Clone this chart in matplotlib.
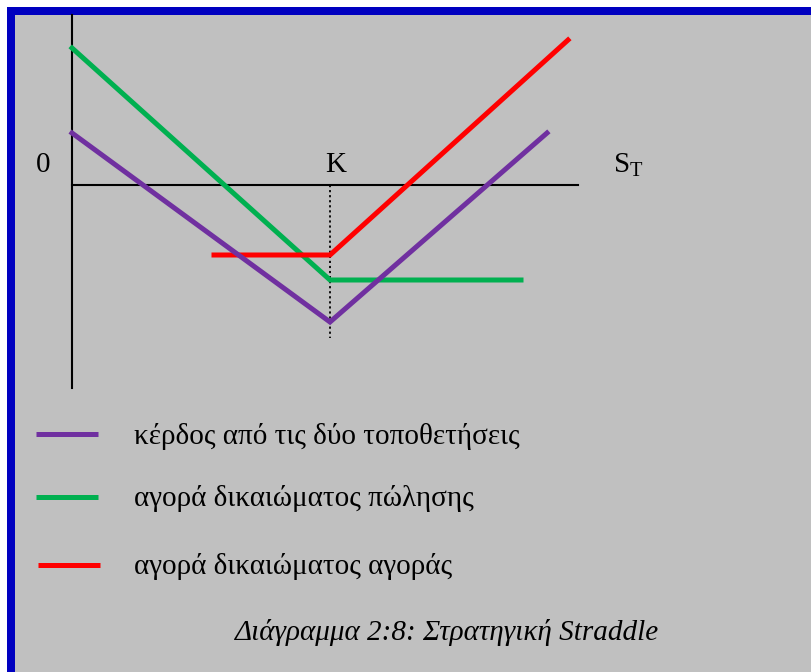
import matplotlib.pyplot as plt
from matplotlib.patches import Rectangle

plt.rcParams['font.family'] = ['Liberation Serif', 'DejaVu Serif']

# payoff diagram, arbitrary units (S_T on x, profit on y)
K = 258
put_S = [0, K, 449]
put_profit = [137, -95, -95]
call_S = [142, K, 496]
call_profit = [-70, -70, 145]
straddle_S = [0, K, 475]
straddle_profit = [52, -137, 52]

labels = ['κέρδος από τις δύο τοποθετήσεις',
          'αγορά δικαιώματος πώλησης',
          'αγορά δικαιώματος αγοράς']
colors = ['#7030A0', '#00B050', '#FF0000']
caption = 'Διάγραμμα 2:8: Στρατηγική Straddle'

W, H = 811, 672
fig = plt.figure(figsize=(W/100, H/100), dpi=100, facecolor='white')

# background frame in pixel coordinates
bg = fig.add_axes([0, 0, 1, 1])
bg.set_xlim(0, W); bg.set_ylim(H, 0); bg.axis('off')
bg.add_patch(Rectangle((7, 7), W-7, H-7, color='#0000C0', lw=0))
bg.add_patch(Rectangle((15, 15), W-15, H-15, color='#C0C0C0', lw=0))

# data axes: origin at pixel (72, 185)
ax = fig.add_axes([0, 0, 1, 1])
ax.patch.set_alpha(0)
ax.set_xlim(-72, W-72); ax.set_ylim(185-H, 185); ax.axis('off')

ax.plot([0, 0], [185-15, 185-388], color='black', lw=1.5)
ax.plot([0, 506], [0, 0], color='black', lw=1.5)
ax.plot([K, K], [0, -153], color='black', lw=1.3, ls=(0, (1.2, 1.6)))

ax.plot(put_S, put_profit, color=colors[1], lw=3.6, solid_joinstyle='miter')
ax.plot(call_S, call_profit, color=colors[2], lw=3.6, solid_joinstyle='miter')
ax.plot(straddle_S, straddle_profit, color=colors[0], lw=3.6, solid_joinstyle='miter')

fs = 21
ax.text(-29, 20, '0', fontsize=fs, ha='center', va='center')
ax.text(K+6, 20, 'K', fontsize=fs, ha='center', va='center')
ax.text(541, 20, r'S$_\mathregular{T}$', fontsize=fs, ha='left', va='center')

# legend
leg_y = [434, 497, 565]
leg_x = [[36, 98], [36, 98], [38, 100]]
for y, xs, c, lab in zip(leg_y, leg_x, colors, labels):
    bg.plot(xs, [y, y], color=c, lw=3.6, solid_capstyle='butt')
    bg.text(134, y+2, lab, fontsize=fs, ha='left', va='center')

bg.text(447, 632, caption, fontsize=fs, style='italic', ha='center', va='center')

fig.savefig('out.png', dpi=100, facecolor='white')
